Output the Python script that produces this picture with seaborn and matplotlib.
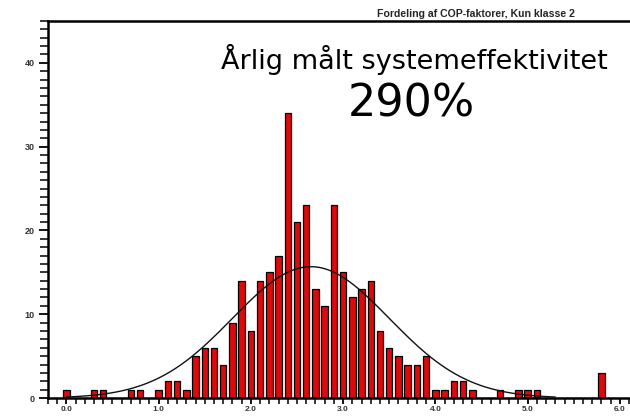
import numpy as np
import pandas as pd
import matplotlib
matplotlib.use("Agg")
import matplotlib.pyplot as plt
import seaborn as sns
from matplotlib.ticker import MultipleLocator, FormatStrFormatter

# COP-faktor bins (0.1 bredde) og antal anlaeg
cop_bins = [round(0.1 * i, 1) for i in range(60)]
counts = [1, 0, 0, 1, 1, 0, 0, 1, 1, 0,
          1, 2, 2, 1, 5, 6, 6, 4, 9, 14,
          8, 14, 15, 17, 34, 21, 23, 13, 11, 23,
          15, 12, 13, 14, 8, 6, 5, 4, 4, 5,
          1, 1, 2, 2, 1, 0, 0, 1, 0, 1,
          1, 1, 0, 0, 0, 0, 0, 0, 3, 0]

# tilpasset normalfordeling (aflaest fra kurven)
fit_mean = 2.65
fit_sigma = 0.85
fit_range = (0.0, 5.3)

title = "Fordeling af COP-faktorer, Kun klasse 2"
label_top = "Årlig målt systemeffektivitet"
label_value = "290%"

df = pd.DataFrame({"cop": cop_bins, "antal": counts})

sns.set_style("white")
fig = plt.figure(figsize=(6.3, 4.19), dpi=100)
ax = fig.add_axes([0.076, 0.05, 0.93, 0.9])

ax.bar(df["cop"], df["antal"], width=0.07, color="#dc0a0a",
       edgecolor="black", linewidth=0.9, zorder=2)

# normalkurve skaleret til antal * binbredde
n_total = df["antal"].sum()
xs = np.linspace(fit_range[0], fit_range[1], 300)
ys = n_total * 0.1 / (fit_sigma * np.sqrt(2 * np.pi)) * np.exp(-(xs - fit_mean) ** 2 / (2 * fit_sigma ** 2))
sns.lineplot(x=xs, y=ys, ax=ax, color="#111111", linewidth=1.0, zorder=3)

ax.set_xlim(-0.2, 6.15)
ax.set_ylim(0, 45)

ax.xaxis.set_major_locator(MultipleLocator(1.0))
ax.xaxis.set_minor_locator(MultipleLocator(0.1))
ax.xaxis.set_major_formatter(FormatStrFormatter("%.1f"))
ax.yaxis.set_major_locator(MultipleLocator(10))
ax.yaxis.set_minor_locator(MultipleLocator(1))

ax.tick_params(axis="both", which="both", direction="out", color="black",
               bottom=True, left=True, top=False, right=False)
ax.tick_params(axis="y", which="major", length=6.5, width=1.3, labelsize=6.5,
               labelcolor="#333333", pad=3)
ax.tick_params(axis="y", which="minor", length=6, width=1.1)
ax.tick_params(axis="x", which="major", length=4.5, width=1.3, labelsize=6,
               labelcolor="#333333", pad=1.5)
ax.tick_params(axis="x", which="minor", length=4.5, width=1.1)
for lbl in ax.get_xticklabels() + ax.get_yticklabels():
    lbl.set_fontweight("bold")
    lbl.set_family("Liberation Sans")

for side in ["left", "bottom", "top"]:
    ax.spines[side].set_linewidth(1.8)
    ax.spines[side].set_color("black")
ax.spines["right"].set_visible(False)

ax.set_xlabel("")
ax.set_ylabel("")

fig.text(0.756, 0.967, title, ha="center", va="center", fontsize=7.6,
         fontweight="bold", family="Liberation Sans")
fig.text(0.657, 0.858, label_top, ha="center", va="center", fontsize=19.5,
         family="DejaVu Sans", color="black")
fig.text(0.653, 0.752, label_value, ha="center", va="center", fontsize=32,
         family="DejaVu Sans", color="black")

plt.savefig("out.png", dpi=100)
